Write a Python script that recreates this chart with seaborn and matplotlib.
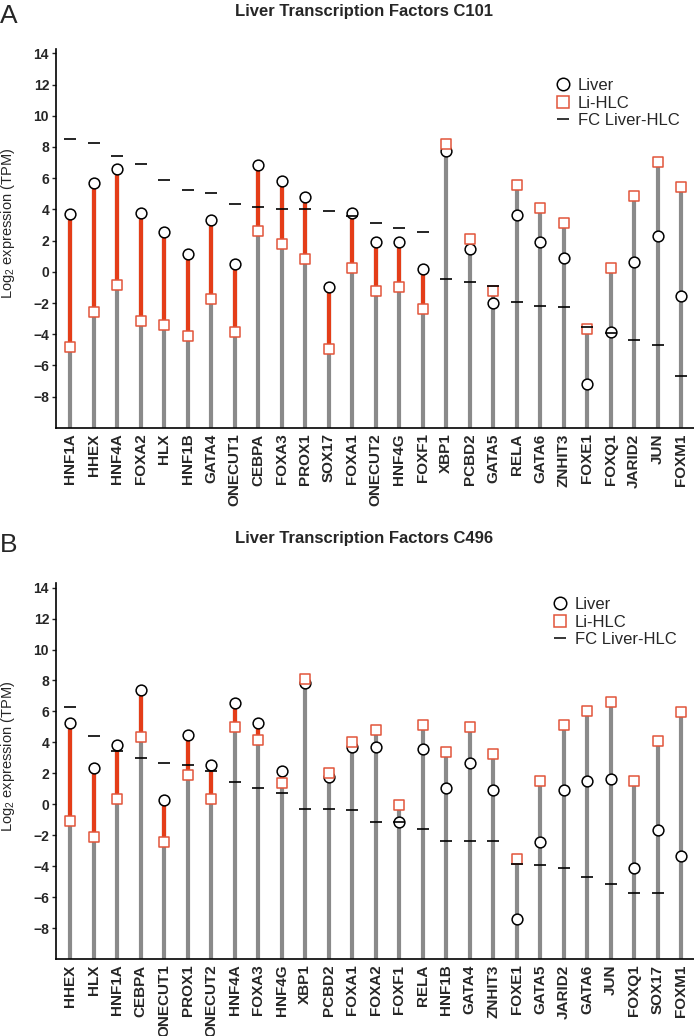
import matplotlib
matplotlib.use("Agg")

import numpy as np
import pandas as pd
import matplotlib.pyplot as plt
from matplotlib.lines import Line2D
import seaborn as sns


genes_a = ["HNF1A", "HHEX", "HNF4A", "FOXA2", "HLX", "HNF1B", "GATA4", "ONECUT1",
           "CEBPA", "FOXA3", "PROX1", "SOX17", "FOXA1", "ONECUT2", "HNF4G", "FOXF1",
           "XBP1", "PCBD2", "GATA5", "RELA", "GATA6", "ZNHIT3", "FOXE1", "FOXQ1",
           "JARID2", "JUN", "FOXM1"]
liver_a = [3.73, 5.70, 6.60, 3.79, 2.53, 1.16, 3.30, 0.47, 6.83, 5.80, 4.82, -0.96,
           3.79, 1.88, 1.88, 0.21, 7.75, 1.48, -1.99, 3.66, 1.88, 0.86, -7.17, -3.83,
           0.64, 2.31, -1.58]
hlc_a = [-4.82, -2.55, -0.86, -3.13, -3.43, -4.13, -1.76, -3.88, 2.63, 1.78, 0.81,
         -4.93, 0.24, -1.24, -0.96, -2.36, 8.22, 2.08, -1.20, 5.55, 4.07, 3.10, -3.68,
         0.26, 4.86, 7.07, 5.46]
fc_a = [8.50, 8.24, 7.43, 6.92, 5.91, 5.25, 5.03, 4.33, 4.18, 4.00, 4.00, 3.92, 3.55,
        3.10, 2.83, 2.55, -0.45, -0.62, -0.88, -1.93, -2.18, -2.27, -3.55, -3.92,
        -4.35, -4.67, -6.66]

genes_b = ["HHEX", "HLX", "HNF1A", "CEBPA", "ONECUT1", "PROX1", "ONECUT2", "HNF4A",
           "FOXA3", "HNF4G", "XBP1", "PCBD2", "FOXA1", "FOXA2", "FOXF1", "RELA",
           "HNF1B", "GATA4", "ZNHIT3", "FOXE1", "GATA5", "JARID2", "GATA6", "JUN",
           "FOXQ1", "SOX17", "FOXM1"]
liver_b = [5.28, 2.37, 3.83, 7.37, 0.26, 4.46, 2.52, 6.55, 5.26, 2.15, 7.86, 1.74,
           3.68, 3.73, -1.16, 3.58, 1.08, 2.65, 0.90, -7.40, -2.43, 0.95, 1.51, 1.64,
           -4.11, -1.68, -3.32]
hlc_b = [-1.08, -2.13, 0.37, 4.35, -2.43, 1.87, 0.37, 5.02, 4.16, 1.40, 8.10, 2.00,
         4.05, 4.80, -0.04, 5.13, 3.36, 4.99, 3.25, -3.53, 1.51, 5.10, 6.03, 6.61,
         1.51, 4.07, 5.97]
fc_b = [6.29, 4.44, 3.42, 2.97, 2.67, 2.52, 2.13, 1.46, 1.06, 0.71, -0.28, -0.32,
        -0.39, -1.14, -1.14, -1.62, -2.37, -2.37, -2.37, -3.88, -3.90, -4.11, -4.72,
        -5.13, -5.73, -5.73, np.nan]

yticks = list(range(-8, 15, 2))

GRAY = "#8a8a8a"
RED = "#e43d18"
SQUARE = "#e2553a"

sns.set_style("white")
plt.rcParams["font.family"] = ["Liberation Sans", "DejaVu Sans"]
plt.rcParams["mathtext.fontset"] = "custom"
plt.rcParams["mathtext.rm"] = "Liberation Sans"


def draw_panel(ax, genes, liver, hlc, fc):
    df = pd.DataFrame({"gene": genes, "liver": liver, "hlc": hlc, "fc": fc})
    top = df[["liver", "hlc"]].max(axis=1)
    up = df[df["liver"] > df["hlc"]]

    # markers first so the category order is set by seaborn
    sns.scatterplot(data=df, x="gene", y="liver", ax=ax, marker="o", s=60,
                    facecolor="white", edgecolor="black", linewidth=1.1,
                    zorder=4, legend=False)
    sns.scatterplot(data=df, x="gene", y="hlc", ax=ax, marker="s", s=50,
                    facecolor="white", edgecolor=SQUARE, linewidth=1.1,
                    zorder=4, legend=False)
    ax.vlines(df["gene"], -10, top, color=GRAY, lw=3.0, zorder=1)
    ax.vlines(up["gene"], up["hlc"], up["liver"], color=RED, lw=3.0, zorder=2)
    ax.plot(df["gene"], df["fc"], ls="none", marker="_", ms=8, mew=1.2,
            color="black", zorder=5)

    ax.set_xlim(-0.6, 26.55)
    ax.set_ylim(-10, 14.3)
    ax.set_yticks(yticks)
    ax.set_xlabel("")
    ax.set_ylabel(r"Log$_2$ expression (TPM)", fontsize=10.5)
    ax.yaxis.set_label_coords(-0.061, 0.54)
    sns.despine(ax=ax)
    for side in ["left", "bottom"]:
        ax.spines[side].set_color("black")
        ax.spines[side].set_linewidth(1.2)
    ax.tick_params(axis="x", length=0, pad=4, labelrotation=90, labelsize=11)
    ax.tick_params(axis="y", length=3, width=1, left=True, pad=2, labelsize=10)
    for lab in ax.get_xticklabels() + ax.get_yticklabels():
        lab.set_fontweight("bold")

    handles = [
        Line2D([], [], ls="none", marker="o", ms=9, mfc="none", mec="black", mew=1.1),
        Line2D([], [], ls="none", marker="s", ms=9, mfc="none", mec=SQUARE, mew=1.1),
        Line2D([], [], ls="none", marker="_", ms=9, mew=1.1, color="black"),
    ]
    return handles


fig = plt.figure(figsize=(6.94, 10.36), dpi=100)
ax_a = fig.add_axes([56 / 694, 0.587, 638 / 694, 0.366])
ax_b = fig.add_axes([56 / 694, 0.0743, 638 / 694, 0.363])

labels = ["Liver", "Li-HLC", "FC Liver-HLC"]

h = draw_panel(ax_a, genes_a, liver_a, hlc_a, fc_a)
ax_a.legend(h, labels, loc="upper left", bbox_to_anchor=(0.777, 0.939),
            bbox_transform=fig.transFigure, frameon=False, fontsize=12,
            handlelength=1.0, handletextpad=0.4, labelspacing=0.15, borderpad=0.4)

h = draw_panel(ax_b, genes_b, liver_b, hlc_b, fc_b)
ax_b.legend(h, labels, loc="upper left", bbox_to_anchor=(0.773, 0.438),
            bbox_transform=fig.transFigure, frameon=False, fontsize=12,
            handlelength=1.0, handletextpad=0.4, labelspacing=0.15, borderpad=0.4)

fig.text(0.525, 0.989, "Liver Transcription Factors C101", ha="center", va="center",
         fontsize=12, fontweight="bold")
fig.text(0.525, 0.480, "Liver Transcription Factors C496", ha="center", va="center",
         fontsize=12, fontweight="bold")
fig.text(0.0, 0.985, "A", ha="left", va="center", fontsize=19)
fig.text(0.0, 0.474, "B", ha="left", va="center", fontsize=19)

fig.savefig("out.png", dpi=100)
